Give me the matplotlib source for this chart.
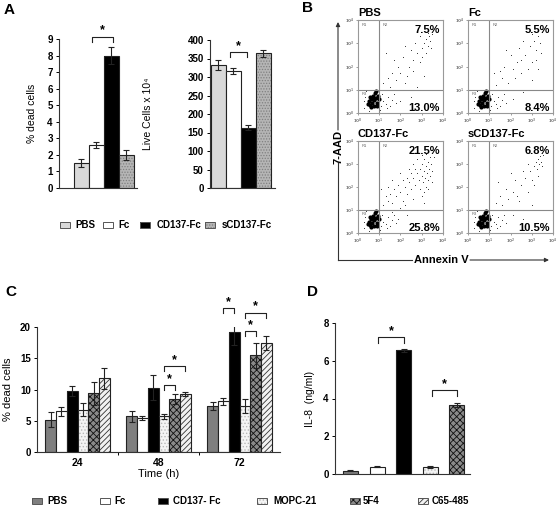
import numpy as np
import matplotlib.pyplot as plt
from matplotlib.patches import Rectangle

plt.rcParams['font.family'] = ['Liberation Sans', 'DejaVu Sans']
plt.rcParams['font.weight'] = 'bold'
plt.rcParams['hatch.linewidth'] = 0.6

W, H = 558, 508

# ── Panel A ──
A_GROUPS = ['PBS', 'Fc', 'CD137-Fc', 'sCD137-Fc']
A_DEAD = [1.5, 2.6, 8.0, 2.0]
A_DEAD_ERR = [0.25, 0.2, 0.5, 0.3]
A_LIVE = [333, 316, 163, 364]
A_LIVE_ERR = [13, 9, 7, 10]

# ── Panel B (log10 decades of Annexin V / 7-AAD) ──
B_TITLES = ['PBS', 'Fc', 'CD137-Fc', 'sCD137-Fc']
B_UPPER = ['7.5%', '5.5%', '21.5%', '6.8%']
B_LOWER = ['13.0%', '8.4%', '25.8%', '10.5%']
B_CORE = [(0.55, 0.35), (0.65, 0.45), (0.75, 0.55), (0.85, 0.65), (0.6, 0.6),
          (0.7, 0.75), (0.8, 0.85), (0.5, 0.5), (0.9, 0.45), (0.95, 0.75),
          (0.6, 0.25), (0.75, 0.3), (0.45, 0.4), (0.85, 0.95), (0.7, 0.6),
          (1.0, 0.6), (0.55, 0.7), (0.9, 0.3)]
B_HALO = [(0.3, 0.2), (0.35, 0.7), (1.1, 0.3), (1.2, 0.5), (1.3, 0.4), (1.15, 0.8),
          (1.4, 0.7), (1.5, 0.3), (1.6, 0.55), (1.0, 1.05), (0.4, 0.95), (1.25, 1.0),
          (1.7, 0.8), (0.5, 0.1), (1.05, 0.15), (1.8, 0.45), (0.3, 0.5), (1.35, 0.2)]
B_TAIL_PBS = [(1.2, 1.3), (1.5, 1.1), (1.8, 1.4), (2.0, 1.7), (2.2, 1.3), (2.4, 2.0),
              (2.6, 2.3), (2.8, 2.6), (2.9, 2.2), (3.0, 2.8), (3.1, 3.0), (3.2, 3.2),
              (3.3, 2.9), (3.35, 3.3), (3.4, 3.1), (3.5, 3.4), (2.7, 3.0), (2.5, 2.7),
              (2.1, 2.4), (1.9, 2.0), (1.6, 1.7), (1.4, 1.5), (2.3, 1.6), (2.6, 1.8),
              (3.0, 2.4), (3.2, 2.6), (3.45, 2.8), (1.7, 2.3), (2.9, 3.3), (3.3, 3.45),
              (2.0, 0.5), (2.5, 0.7), (2.8, 1.1), (3.1, 1.6), (1.3, 2.6), (2.2, 2.9)]
B_TAIL_FC = [(1.3, 1.2), (1.6, 1.5), (1.9, 1.3), (2.1, 1.9), (2.3, 2.2), (2.5, 1.7),
             (2.7, 2.5), (2.9, 2.9), (3.0, 2.2), (3.1, 3.1), (3.2, 2.7), (3.3, 3.3),
             (3.4, 3.0), (3.5, 3.5), (2.4, 2.8), (2.0, 2.5), (1.7, 2.0), (1.5, 1.8),
             (2.6, 3.1), (2.8, 1.9), (3.2, 2.3), (3.45, 2.6), (1.8, 2.7), (2.2, 1.5),
             (3.0, 3.4), (2.5, 2.3), (1.2, 1.7), (2.1, 0.6), (2.6, 0.9), (3.0, 1.4),
             (3.3, 1.9)]
B_TAIL_CD137 = [(1.2, 1.2), (1.4, 1.4), (1.6, 1.3), (1.8, 1.6), (2.0, 1.8), (2.1, 1.4),
                (2.2, 2.0), (2.3, 1.7), (2.4, 2.2), (2.5, 1.9), (2.6, 2.4), (2.7, 2.1),
                (2.8, 2.6), (2.85, 2.3), (2.9, 2.8), (3.0, 2.5), (3.0, 3.0), (3.05, 2.2),
                (3.1, 2.7), (3.1, 3.2), (3.15, 2.4), (3.2, 2.9), (3.2, 2.0), (3.25, 2.6),
                (3.3, 3.1), (3.3, 2.3), (3.35, 2.8), (3.4, 3.3), (3.4, 2.5), (3.45, 3.0),
                (3.5, 2.7), (3.1, 1.8), (2.9, 1.9), (2.7, 2.8), (2.5, 2.6), (2.3, 2.4),
                (2.1, 2.3), (1.9, 2.1), (1.7, 1.9), (1.5, 1.7), (1.3, 1.6), (2.6, 3.0),
                (2.8, 3.2), (3.0, 3.4), (3.2, 3.45), (2.4, 2.8), (2.0, 2.6), (1.6, 2.3),
                (1.4, 2.0), (2.2, 1.2), (2.6, 1.5), (3.0, 1.6), (3.3, 1.9), (3.5, 2.2),
                (1.9, 0.6), (2.3, 0.8), (2.7, 1.0), (3.1, 1.3), (1.6, 0.9), (2.0, 1.1),
                (3.6, 3.3), (1.1, 1.9)]
B_TAIL_SCD137 = [(1.3, 1.3), (1.6, 1.2), (1.9, 1.5), (2.1, 1.8), (2.3, 1.6), (2.5, 2.1),
                 (2.7, 2.4), (2.9, 2.7), (3.0, 2.3), (3.1, 2.9), (3.2, 3.1), (3.25, 2.8),
                 (3.3, 3.2), (3.35, 3.0), (3.4, 3.35), (3.45, 3.1), (3.5, 2.9), (2.8, 3.0),
                 (2.6, 2.7), (2.2, 2.3), (1.8, 1.9), (1.5, 1.6), (2.4, 1.4), (2.8, 1.8),
                 (3.1, 2.1), (3.3, 2.5), (2.0, 2.6), (2.6, 0.6), (2.1, 0.8), (3.0, 1.2),
                 (1.4, 2.2), (3.55, 3.4)]
B_TAILS = [B_TAIL_PBS, B_TAIL_FC, B_TAIL_CD137, B_TAIL_SCD137]
B_DECADES = [0, 1, 2, 3, 4]

# ── Panel C ──
C_TIMES = ['24', '48', '72']
C_LABELS = ['PBS', 'Fc', 'CD137- Fc', 'MOPC-21', '5F4', 'C65-485']
C_PBS = [5.2, 5.7, 7.4]
C_FC = [6.5, 5.5, 8.1]
C_CD137 = [9.7, 10.3, 19.2]
C_MOPC = [6.8, 5.7, 7.4]
C_5F4 = [9.4, 8.5, 15.5]
C_C65 = [11.8, 9.3, 17.4]
C_PBS_ERR = [1.2, 0.9, 0.6]
C_FC_ERR = [0.7, 0.3, 0.6]
C_CD137_ERR = [0.8, 2.0, 2.1]
C_MOPC_ERR = [1.0, 0.4, 1.1]
C_5F4_ERR = [1.8, 0.8, 2.0]
C_C65_ERR = [1.7, 0.3, 1.1]

# ── Panel D ──
D_VALUES = [0.18, 0.38, 6.55, 0.38, 3.65]
D_ERR = [0.02, 0.02, 0.07, 0.05, 0.12]

# face colour, hatch, hatch colour
STY_PBS_A = ('#d9d9d9', None, None)
STY_PBS = ('#7f7f7f', None, None)
STY_FC = ('white', None, None)
STY_CD137 = ('black', None, None)
STY_SCD137 = ('#b5b5b5', '......', '#808080')
STY_MOPC = ('#f4f4f4', '.....', '#b8b8b8')
STY_5F4 = ('#8a8a8a', 'xxxxx', '#111111')
STY_C65 = ('#f2f2f2', '//////', '#333333')

EDGE = '#222222'


def px_axes(fig, x0, y0, x1, y1):
    return fig.add_axes([x0 / W, 1 - y1 / H, (x1 - x0) / W, (y1 - y0) / H])


def draw_bars(ax, x, h, width, sty, err=None, capsize=2):
    fc, hatch, hc = sty
    ax.bar(x, h, width, color=fc, hatch=hatch,
           edgecolor=hc if hatch else 'none', lw=0)
    ax.bar(x, h, width, fill=False, edgecolor=EDGE, lw=0.8, yerr=err,
           error_kw=dict(ecolor='#222222', elinewidth=0.8, capsize=capsize,
                         capthick=0.8))


def bracket(ax, x0, x1, y, drop):
    ax.plot([x0, x0, x1, x1], [y - drop, y, y, y - drop], color='#222222',
            lw=0.8, clip_on=False)
    ax.text((x0 + x1) / 2, y, '*', ha='center', va='bottom', fontsize=9,
            clip_on=False)


def style_bar_axes(ax):
    for s in ('top', 'right'):
        ax.spines[s].set_visible(False)
    for s in ('left', 'bottom'):
        ax.spines[s].set_color('#333333')
        ax.spines[s].set_linewidth(0.8)
    ax.tick_params(axis='y', labelsize=7, length=2.5, width=0.7, pad=2)


def legend_item(ax, x, y, label, sty, w=10, h=5.5, tx=None):
    fc, hatch, hc = sty
    ax.add_patch(Rectangle((x, y - h / 2), w, h, facecolor=fc, hatch=hatch,
                           edgecolor=hc if hatch else 'none', lw=0))
    ax.add_patch(Rectangle((x, y - h / 2), w, h, fill=False, edgecolor='#555555',
                           lw=0.7))
    ax.text(tx, y, label, ha='left', va='center', fontsize=7)


fig = plt.figure(figsize=(W / 100, H / 100), dpi=100)

# overlay in pixel coordinates for letters, legends, arrows
ov = fig.add_axes([0, 0, 1, 1])
ov.set_xlim(0, W)
ov.set_ylim(H, 0)
ov.axis('off')

for letter, (lx, ly) in zip('ABCD', [(4, 10), (302, 8), (5, 292), (307, 292)]):
    ov.text(lx, ly, letter, fontsize=11, ha='left', va='center')

# ── A left: % dead cells ──
ax = px_axes(fig, 59, 39, 137, 188)
xa = np.arange(len(A_GROUPS))
for i, sty in enumerate([STY_PBS_A, STY_FC, STY_CD137, STY_SCD137]):
    draw_bars(ax, xa[i], A_DEAD[i], 1.0, sty, err=A_DEAD_ERR[i])
ax.set_xlim(-1.47, 3.73)
ax.set_ylim(0, 9)
ax.set_yticks(range(0, 10))
ax.set_xticks([])
style_bar_axes(ax)
ax.set_ylabel('% dead cells', fontsize=7.5)
ax.yaxis.set_label_coords(-0.28, 0.5)
bracket(ax, 0.75, 2.1, 9.15, 0.35)

# ── A right: live cells ──
ax = px_axes(fig, 210, 40, 275, 188)
for i, sty in enumerate([STY_PBS_A, STY_FC, STY_CD137, STY_SCD137]):
    draw_bars(ax, xa[i], A_LIVE[i], 1.0, sty, err=A_LIVE_ERR[i])
ax.set_xlim(-0.55, 3.8)
ax.set_ylim(0, 400)
ax.set_yticks(range(0, 401, 50))
ax.set_xticks([])
style_bar_axes(ax)
ax.set_ylabel('Live Cells x 10⁴', fontsize=7.5)
ax.yaxis.set_label_coords(-0.88, 0.5)
bracket(ax, 0.8, 1.95, 368, 15)

for (bx, tx), lab, sty in zip([(60, 75), (103, 118), (140, 157), (205, 222)],
                              A_GROUPS,
                              [STY_PBS_A, STY_FC, STY_CD137, STY_SCD137]):
    legend_item(ov, bx, 225, lab, sty, tx=tx)

# ── B: flow cytometry dot plots ──
boxes = [(358, 20, 443, 113), (468, 20, 553, 113),
         (358, 141, 443, 233), (468, 141, 553, 233)]
for k, box in enumerate(boxes):
    ax = px_axes(fig, *box)
    core = np.array(B_CORE)
    tail = np.array(B_HALO + B_TAILS[k])
    ax.scatter(tail[:, 0], tail[:, 1], s=0.5, color='#333333', lw=0)
    ax.scatter(core[:, 0], core[:, 1], s=9, color='black', lw=0)
    ax.axvline(1, color='#888888', lw=0.8)
    ax.axhline(1, color='#888888', lw=0.8)
    ax.set_xlim(0, 4)
    ax.set_ylim(0, 4)
    ax.set_xticks(B_DECADES)
    ax.set_yticks(B_DECADES)
    decade_labels = [f'$10^{d}$' for d in B_DECADES]
    ax.set_xticklabels(decade_labels)
    ax.set_yticklabels(decade_labels)
    ax.tick_params(labelsize=3, length=1.5, width=0.5, pad=1, colors='#777777')
    for s in ax.spines.values():
        s.set_color('#999999')
        s.set_linewidth(0.8)
    ax.text(0.15, 3.85, 'R1', fontsize=3, color='#666666', va='top',
            weight='normal')
    ax.text(1.15, 3.85, 'R2', fontsize=3, color='#666666', va='top',
            weight='normal')
    ax.text(0.15, 0.9, 'R3', fontsize=3, color='#666666', va='top',
            weight='normal')
    ax.text(3.85, 3.55, B_UPPER[k], fontsize=8, ha='right', va='center')
    ax.text(3.85, 0.2, B_LOWER[k], fontsize=8, ha='right', va='center')
    ax.text(0.0, 1.02, B_TITLES[k], transform=ax.transAxes, fontsize=8,
            ha='left', va='bottom')

# axis arrows for B
ov.plot([338, 338], [260, 163], color='#333333', lw=0.8)
ov.annotate('', xy=(338, 22), xytext=(338, 130),
            arrowprops=dict(arrowstyle='-|>', color='#333333', lw=0.8,
                            mutation_scale=6, shrinkA=0, shrinkB=0))
ov.text(338, 147, '7-AAD', rotation=90, fontsize=8, ha='center', va='center')
ov.plot([338, 412], [260, 260], color='#333333', lw=0.8)
ov.annotate('', xy=(549, 260), xytext=(470, 260),
            arrowprops=dict(arrowstyle='-|>', color='#333333', lw=0.8,
                            mutation_scale=6, shrinkA=0, shrinkB=0))
ov.text(441, 260, 'Annexin V', fontsize=8, ha='center', va='center')

# ── C: % dead cells over time ──
ax = px_axes(fig, 37, 327, 280, 452)
xc = np.arange(len(C_TIMES))
bw = 0.1333
c_series = [(C_PBS, C_PBS_ERR, STY_PBS), (C_FC, C_FC_ERR, STY_FC),
            (C_CD137, C_CD137_ERR, STY_CD137), (C_MOPC, C_MOPC_ERR, STY_MOPC),
            (C_5F4, C_5F4_ERR, STY_5F4), (C_C65, C_C65_ERR, STY_C65)]
for i, (vals, errs, sty) in enumerate(c_series):
    draw_bars(ax, xc + (i - 2.5) * bw, vals, bw, sty, err=errs)
ax.set_xlim(-0.5, 2.5)
ax.set_ylim(0, 20)
ax.set_yticks([0, 5, 10, 15, 20])
ax.set_xticks(xc)
ax.set_xticklabels(C_TIMES)
ax.set_xticks([0.5, 1.5], minor=True)
ax.tick_params(axis='x', which='major', length=0, labelsize=7.5, pad=4)
ax.tick_params(axis='x', which='minor', length=2.5, width=0.7)
style_bar_axes(ax)
ax.set_ylabel('% dead cells', fontsize=8)
ax.yaxis.set_label_coords(-0.1, 0.5)
ax.set_xlabel('Time (h)', fontsize=8, labelpad=1)

off = lambda i: (i - 2.5) * bw
bracket(ax, 1 + off(3), 1 + off(4), 10.7, 0.8)
bracket(ax, 1 + off(3), 1 + off(5), 13.8, 0.8)
bracket(ax, 2 + off(1), 2 + off(2), 23.0, 0.8)
bracket(ax, 2 + off(3), 2 + off(4), 19.4, 0.8)
bracket(ax, 2 + off(3), 2 + off(5), 22.3, 0.8)

# ── D: IL-8 ──
ax = px_axes(fig, 335, 323, 470, 474)
xd = np.arange(len(D_VALUES))
for i, sty in enumerate([STY_PBS, STY_FC, STY_CD137, STY_MOPC, STY_5F4]):
    draw_bars(ax, xd[i], D_VALUES[i], 0.56, sty, err=D_ERR[i])
ax.set_xlim(-0.58, 4.49)
ax.set_ylim(0, 8)
ax.set_yticks([0, 2, 4, 6, 8])
ax.set_xticks([])
style_bar_axes(ax)
ax.set_ylabel('IL-8  (ng/ml)', fontsize=7.5)
ax.yaxis.set_label_coords(-0.15, 0.5)
bracket(ax, 1.05, 2.0, 7.25, 0.3)
bracket(ax, 3.05, 4.0, 4.45, 0.3)

for (bx, tx), lab, sty in zip([(32, 47), (100, 114), (158, 173), (257, 273),
                               (350, 363), (418, 432)],
                              C_LABELS, [s for _, _, s in c_series]):
    legend_item(ov, bx, 501, lab, sty, w=9.5, h=6, tx=tx)

fig.savefig('out.png', dpi=100)
